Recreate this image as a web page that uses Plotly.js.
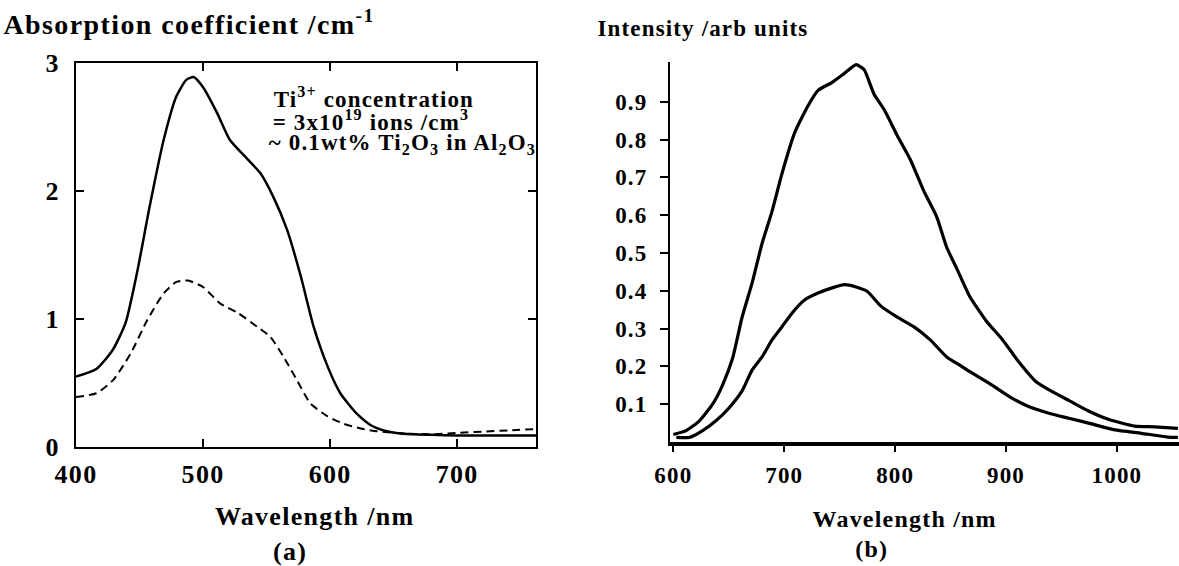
<!DOCTYPE html>
<html>
<head>
<meta charset="utf-8">
<script src="https://cdn.plot.ly/plotly-3.0.1.min.js"></script>
<style>
html,body{margin:0;padding:0;background:#fff;}
#chart{width:1179px;height:566px;}
#chart svg text{letter-spacing:0.05em;}
</style>
</head>
<body>
<div id="chart"></div>
<script>
// (a) absorption spectra
const absSolidWl = [400, 416, 429, 439, 448, 458, 469, 479, 487, 492.5, 500, 511, 521, 532, 545, 555, 566, 577, 587, 598, 608, 621, 632, 642, 652, 665, 680, 700, 730, 762];
const absSolidVal = [0.55, 0.61, 0.76, 0.97, 1.36, 1.88, 2.40, 2.74, 2.87, 2.89, 2.81, 2.61, 2.40, 2.28, 2.14, 1.96, 1.70, 1.33, 0.94, 0.63, 0.42, 0.26, 0.17, 0.13, 0.11, 0.10, 0.095, 0.09, 0.09, 0.09];
const absDashWl = [400, 416, 429, 443, 456, 469, 479, 488, 500, 513.6, 527, 542.5, 553, 563, 574, 584.5, 598, 611, 624, 635, 645, 660, 680, 700, 720, 740, 762];
const absDashVal = [0.39, 0.42, 0.52, 0.73, 0.99, 1.20, 1.29, 1.30, 1.25, 1.12, 1.05, 0.94, 0.86, 0.71, 0.52, 0.34, 0.24, 0.18, 0.145, 0.125, 0.115, 0.105, 0.10, 0.11, 0.12, 0.13, 0.14];
const absXTicks = [400, 500, 600, 700];
const absYTicks = [0, 1, 2, 3];

// (b) fluorescence spectra
const flUpperWl = [600, 611.6, 623.5, 635.4, 644.3, 653.3, 662, 671, 680, 689, 698, 709.7, 721.6, 730.5, 742.5, 754.3, 764.8, 772, 781, 790, 802, 814, 825.7, 837.6, 846.5, 855.4, 867.3, 882.2, 897, 912, 926.8, 941.7, 956.6, 974.4, 992.2, 1016, 1034, 1055];
const flUpperVal = [0.02, 0.03, 0.056, 0.10, 0.15, 0.22, 0.33, 0.42, 0.525, 0.61, 0.71, 0.82, 0.89, 0.93, 0.95, 0.975, 0.998, 0.985, 0.92, 0.88, 0.81, 0.745, 0.665, 0.595, 0.515, 0.46, 0.385, 0.32, 0.27, 0.21, 0.16, 0.133, 0.11, 0.082, 0.06, 0.042, 0.04, 0.036];
const flLowerWl = [602.7, 614.5, 626.5, 638.4, 650.2, 662, 671, 680, 689, 698, 706.8, 718.6, 730.5, 742.5, 754.3, 764.8, 775, 787, 802, 816.8, 831.7, 846.5, 860, 867.3, 885, 903, 920.9, 938.7, 956.6, 974.4, 998.2, 1022, 1045.8, 1055];
const flLowerVal = [0.012, 0.012, 0.03, 0.056, 0.09, 0.135, 0.19, 0.225, 0.27, 0.305, 0.34, 0.376, 0.394, 0.407, 0.416, 0.41, 0.398, 0.36, 0.33, 0.305, 0.27, 0.225, 0.20, 0.186, 0.155, 0.12, 0.093, 0.076, 0.063, 0.05, 0.032, 0.023, 0.013, 0.012];
const flXTicks = [600, 700, 800, 900, 1000];
const flYTicks = [0.1, 0.2, 0.3, 0.4, 0.5, 0.6, 0.7, 0.8, 0.9];

const W = 1179, H = 566;
const px = v => v / W;
const py = v => 1 - v / H;
const FAM = 'Liberation Serif, Times New Roman, serif';
const f = s => ({family: FAM, size: s, color: '#000', weight: 'bold'});

const traces = [
  {x: absSolidWl, y: absSolidVal, xaxis: 'x', yaxis: 'y', mode: 'lines',
   line: {color: '#000', width: 2.5, shape: 'spline', smoothing: 0.6}},
  {x: absDashWl, y: absDashVal, xaxis: 'x', yaxis: 'y', mode: 'lines',
   line: {color: '#000', width: 2, dash: '8px,5px', shape: 'spline', smoothing: 0.6}},
  {x: flUpperWl, y: flUpperVal, xaxis: 'x2', yaxis: 'y2', mode: 'lines',
   line: {color: '#000', width: 3.2, shape: 'spline', smoothing: 0.5}},
  {x: flLowerWl, y: flLowerVal, xaxis: 'x2', yaxis: 'y2', mode: 'lines',
   line: {color: '#000', width: 3.2, shape: 'spline', smoothing: 0.5}}
];

function ann(text, x, y, size) {
  return {text: text, x: px(x), y: py(y), xref: 'paper', yref: 'paper',
          xanchor: 'center', yanchor: 'middle', showarrow: false, font: f(size)};
}

const layout = {
  width: W, height: H,
  margin: {l: 0, r: 0, t: 0, b: 0},
  paper_bgcolor: '#fff', plot_bgcolor: '#fff',
  showlegend: false,
  font: f(24),
  xaxis: {domain: [px(76), px(536)], range: [400, 762], anchor: 'y',
          tickvals: absXTicks, ticks: 'inside', ticklen: 8, tickwidth: 1.5, tickcolor: '#000',
          showline: true, linecolor: '#000', linewidth: 2, mirror: 'ticks',
          showgrid: false, zeroline: false, tickfont: f(26), ticklabelstandoff: 3},
  yaxis: {domain: [py(447), py(63)], range: [0, 3], anchor: 'x',
          tickvals: absYTicks, ticks: 'inside', ticklen: 8, tickwidth: 1.5, tickcolor: '#000',
          showline: true, linecolor: '#000', linewidth: 2, mirror: 'ticks',
          showgrid: false, zeroline: false, tickfont: f(26), ticklabelstandoff: 9},
  xaxis2: {domain: [px(670), px(1179)], range: [597, 1056], anchor: 'y2',
           tickvals: flXTicks, ticks: 'outside', ticklen: 6, tickwidth: 2, tickcolor: '#000',
           showline: true, linecolor: '#000', linewidth: 3.5,
           showgrid: false, zeroline: false, tickfont: f(23), ticklabelstandoff: 4},
  yaxis2: {domain: [py(442), py(62)], range: [0, 1.005], anchor: 'x2',
           tickvals: flYTicks, ticktext: flYTicks.map(v => v.toFixed(1)),
           ticks: 'outside', ticklen: 8, tickwidth: 2, tickcolor: '#000',
           showline: true, linecolor: '#000', linewidth: 2,
           showgrid: false, zeroline: false, tickfont: f(23), ticklabelstandoff: 8},
  annotations: [
    ann('Absorption coefficient /cm<sup>-1</sup>', 189, 22, 28),
    ann('Intensity /arb units', 703, 28, 23),
    ann('Wavelength /nm', 315, 516, 26),
    ann('(a)', 290, 551, 26),
    ann('Wavelength /nm', 904, 519, 24),
    ann('(b)', 872, 549, 24),
    ann('Ti<sup>3+</sup> concentration', 374, 97, 23),
    ann('= 3x10<sup>19</sup> ions /cm<sup>3</sup>', 371, 121, 23),
    ann('~ 0.1wt% Ti<sub>2</sub>O<sub>3</sub> in Al<sub>2</sub>O<sub>3</sub>', 402, 144, 23)
  ]
};

Plotly.newPlot('chart', traces, layout, {staticPlot: true, displayModeBar: false});
</script>
</body>
</html>
